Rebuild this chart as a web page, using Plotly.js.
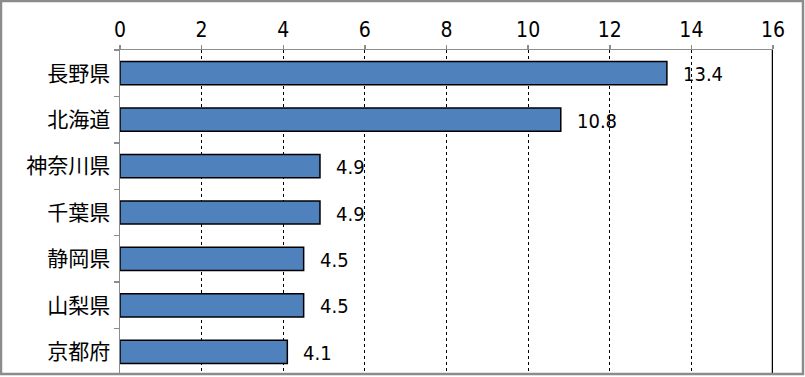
<!DOCTYPE html>
<html><head><meta charset="utf-8">
<script src="https://cdn.plot.ly/plotly-3.0.1.min.js"></script>
<style>html,body{margin:0;padding:0;background:#fff}#c{width:805px;height:377px}</style>
</head><body><div id="c"></div>
<script>
const categories = ["長野県","北海道","神奈川県","千葉県","静岡県","山梨県","京都府"];
const values = [13.4, 10.8, 4.9, 4.9, 4.5, 4.5, 4.1];
const xTicks = [0,2,4,6,8,10,12,14,16];

const numFont = "'Liberation Sans Narrow', 'DejaVu Sans Condensed', 'Liberation Sans', Arial, sans-serif";
const trace = {
  type: 'bar', orientation: 'h',
  x: values, y: categories,
  marker: {color: '#4F81BD', line: {color: '#000', width: 1.5}},
  hoverinfo: 'none'
};
const annotations = values.map((v,i)=>({
  x: v, y: categories[i], xref:'x', yref:'y', text: v.toFixed(1),
  showarrow:false, xanchor:'left', xshift: 14, yshift: -1,
  font:{family:numFont, size:20, color:'#000'}
}));
const shapes = [
  {type:'line', xref:'x', yref:'paper', x0:16, x1:16, y0:0, y1:1, line:{color:'#000', width:2.5}},
  {type:'rect', xref:'paper', yref:'paper',
   x0:(1-120)/653, x1:(803-120)/653, y0:(376-375)/325 - 0.0, y1:1+(50-1)/325,
   line:{color:'#8c8c8c', width:2.5}, fillcolor:'rgba(0,0,0,0)'}
];
const layout = {
  width:805, height:377,
  margin:{l:120, r:32, t:50, b:2},
  paper_bgcolor:'#fff', plot_bgcolor:'#fff',
  showlegend:false, bargap:0.5,
  xaxis:{side:'top', range:[0,16], tickvals:xTicks, ticktext:xTicks.map(String),
    showgrid:true, gridcolor:'#000', griddash:'dot', gridwidth:1,
    zeroline:false, showline:true, linecolor:'#8c8c8c', linewidth:1.5,
    ticks:'outside', ticklen:4, tickcolor:'#8c8c8c', tickwidth:1.5,
    ticklabelstandoff: -1,
    tickfont:{family:numFont, size:21, color:'#000'}},
  yaxis:{autorange:'reversed', type:'category', showline:true, linecolor:'#8c8c8c', linewidth:1.5,
    ticks:'outside', ticklen:5, tickcolor:'#8c8c8c', tickwidth:1.5, tickson:'boundaries',
    showgrid:false, ticklabelstandoff: 4,
    tickfont:{family:'Noto Sans CJK JP, sans-serif', size:21, color:'#000'}},
  annotations, shapes
};
Plotly.newPlot('c',[trace],layout,{staticPlot:true});
</script></body></html>
